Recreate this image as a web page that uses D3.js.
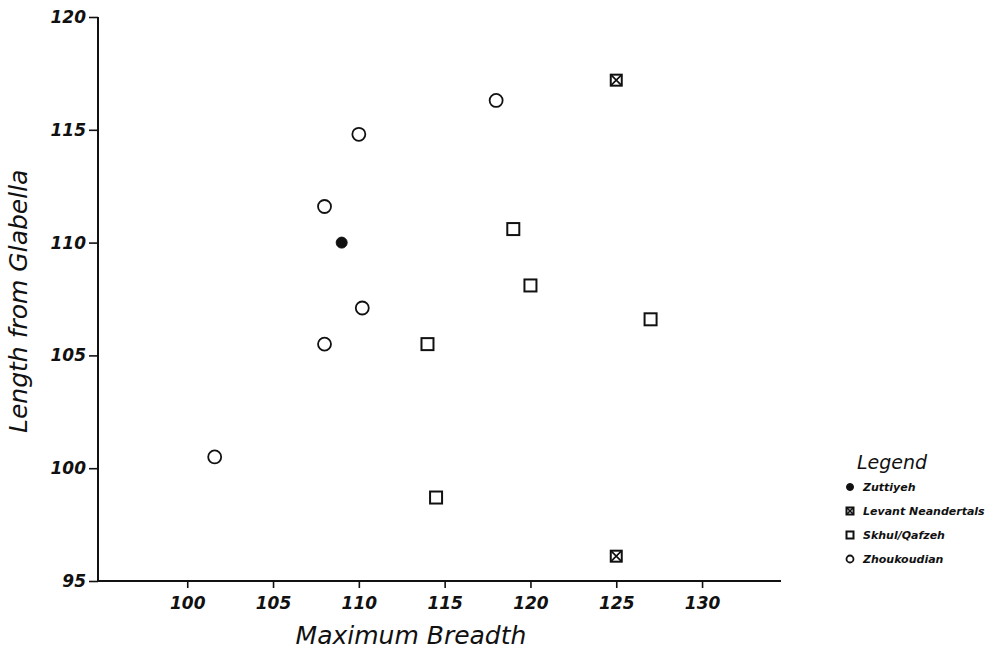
<!DOCTYPE html>
<html>
<head>
<meta charset="utf-8">
<script src="https://cdn.jsdelivr.net/npm/d3@7/dist/d3.min.js"></script>
<style>
  html, body { margin: 0; padding: 0; background: #fff; }
  svg { display: block; }
  text { font-family: "DejaVu Sans", sans-serif; font-style: italic; fill: #111; }
</style>
</head>
<body>
<svg id="chart" width="1002" height="654"></svg>
<script>
// Cranial measurements: maximum breadth (x) vs length from glabella (y)
const zuttiyehBreadth = [109.0];
const zuttiyehLength  = [110.0];

const levantBreadth = [125.0, 125.0];
const levantLength  = [117.2, 96.1];

const skhulBreadth = [119.0, 120.0, 127.0, 114.0, 114.5];
const skhulLength  = [110.6, 108.1, 106.6, 105.5, 98.7];

const zhouBreadth = [101.6, 108.0, 108.0, 110.2, 110.0, 118.0];
const zhouLength  = [100.5, 111.6, 105.5, 107.1, 114.8, 116.3];

const xTicks = [100, 105, 110, 115, 120, 125, 130];
const yTicks = [95, 100, 105, 110, 115, 120];

const legendLabels = ["Zuttiyeh", "Levant Neandertals", "Skhul/Qafzeh", "Zhoukoudian"];
const legendKinds  = ["filled", "crossbox", "square", "circle"];

const svg = d3.select("#chart");

const x = d3.scaleLinear().domain([94.8, 134.6]).range([98, 781]);
const y = d3.scaleLinear().domain([95, 120]).range([581, 17]);

// axes
const xAxis = svg.append("g")
  .attr("transform", `translate(0,${y(95)})`)
  .call(d3.axisBottom(x).tickValues(xTicks).tickSize(7).tickPadding(9).tickFormat(d3.format("d")));
const yAxis = svg.append("g")
  .attr("transform", `translate(${x.range()[0]},0)`)
  .call(d3.axisLeft(y).tickValues(yTicks).tickSize(9).tickPadding(3).tickFormat(d3.format("d")));

xAxis.select(".domain").attr("d", `M${x.range()[0]},0H${x.range()[1]}`);
yAxis.select(".domain").attr("d", `M0,${y(95)}V${y(120)}`);

[xAxis, yAxis].forEach(g => {
  g.select(".domain").attr("stroke", "#111").attr("stroke-width", 2);
  g.selectAll(".tick line").attr("stroke", "#111").attr("stroke-width", 1.6);
  g.selectAll(".tick text")
    .attr("fill", "#111")
    .style("font-size", "17px")
    .style("font-weight", "bold")
    .style("font-style", "italic");
});

// axis titles
svg.append("text")
  .attr("x", 411).attr("y", 644)
  .attr("text-anchor", "middle")
  .style("font-size", "25px")
  .text("Maximum Breadth");
svg.append("text")
  .attr("transform", `translate(27,${y(107.4)}) rotate(-90)`)
  .attr("text-anchor", "middle")
  .style("font-size", "25px")
  .text("Length from Glabella");

// marker drawing
function drawMarker(g, kind, cx, cy, s) {
  const h = s / 2;
  if (kind === "filled") {
    g.append("circle").attr("cx", cx).attr("cy", cy).attr("r", h)
      .attr("fill", "#111").attr("stroke", "#111").attr("stroke-width", 1);
  } else if (kind === "circle") {
    g.append("circle").attr("cx", cx).attr("cy", cy).attr("r", h)
      .attr("fill", "none").attr("stroke", "#111").attr("stroke-width", 1.8);
  } else if (kind === "square") {
    g.append("rect").attr("x", cx - h).attr("y", cy - h).attr("width", s).attr("height", s)
      .attr("fill", "none").attr("stroke", "#111").attr("stroke-width", 2);
  } else if (kind === "crossbox") {
    g.append("rect").attr("x", cx - h).attr("y", cy - h).attr("width", s).attr("height", s)
      .attr("fill", "none").attr("stroke", "#111").attr("stroke-width", 2);
    g.append("path")
      .attr("d", `M${cx - h},${cy - h}L${cx + h},${cy + h}M${cx + h},${cy - h}L${cx - h},${cy + h}`)
      .attr("stroke", "#111").attr("stroke-width", 1.6);
  }
}

const pts = svg.append("g");
function plotSeries(bx, ly, kind, size) {
  bx.forEach((b, i) => drawMarker(pts, kind, x(b), y(ly[i]), size));
}
plotSeries(zhouBreadth, zhouLength, "circle", 13);
plotSeries(skhulBreadth, skhulLength, "square", 12);
plotSeries(levantBreadth, levantLength, "crossbox", 11);
plotSeries(zuttiyehBreadth, zuttiyehLength, "filled", 11);

// legend
const lg = svg.append("g");
lg.append("text").attr("x", 857).attr("y", 469)
  .style("font-size", "19px").text("Legend");
legendLabels.forEach((lab, i) => {
  const cy = 487 + i * 24;
  drawMarker(lg, legendKinds[i], 850, cy, 7);
  lg.append("text").attr("x", 863).attr("y", cy + 4)
    .style("font-size", "11px").style("font-weight", "bold")
    .text(lab);
});
</script>
</body>
</html>
